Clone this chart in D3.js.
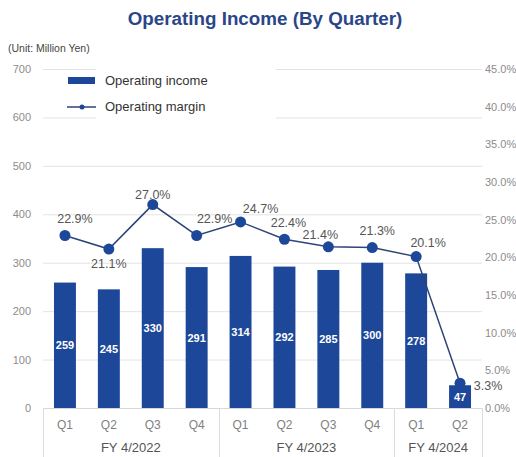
<!DOCTYPE html>
<html>
<head>
<meta charset="utf-8">
<script src="https://cdn.jsdelivr.net/npm/d3@7"></script>
<style>
  body { margin: 0; background: #fff; }
  svg { display: block; font-family: Arial, "Liberation Sans", sans-serif; }
</style>
</head>
<body>
<svg id="chart" width="516" height="457"></svg>
<script>
// Quarterly operating income (million yen) and operating margin (%)
const quarters = ["Q1", "Q2", "Q3", "Q4", "Q1", "Q2", "Q3", "Q4", "Q1", "Q2"];
const fiscalYears = ["FY 4/2022", "FY 4/2023", "FY 4/2024"];
const fiscalYearOfQuarter = [0, 0, 0, 0, 1, 1, 1, 1, 2, 2];
const operatingIncome = [259, 245, 330, 291, 314, 292, 285, 300, 278, 47];
const operatingMargin = [22.9, 21.1, 27.0, 22.9, 24.7, 22.4, 21.4, 21.3, 20.1, 3.3];
const incomeTicks = [0, 100, 200, 300, 400, 500, 600, 700];
const marginTicks = [0, 5, 10, 15, 20, 25, 30, 35, 40, 45];
// Where each margin label sits relative to its point: [dx, dy]
const marginLabelOffsets = [[10, -16], [0, 15], [0, -10], [18, -16], [20, -13], [4, -16], [-8, -12], [5, -17], [12, -14], [28, 3]];

const svg = d3.select("#chart");
const plotLeft = 43, plotRight = 482, plotTop = 69, plotBottom = 408;
const keys = d3.range(quarters.length);

const x = d3.scaleBand().domain(keys).range([plotLeft, plotRight]).paddingInner(0.5).paddingOuter(0.25);
const yL = d3.scaleLinear().domain([0, 700]).range([plotBottom, plotTop]);
const yR = d3.scaleLinear().domain([0, 45]).range([plotBottom, plotTop]);

const barColor = "#1d4799";
const lineColor = "#2e4477";
const gridColor = "#e3e3e3";
const tickColor = "#8c8c8c";

// Title
svg.append("text")
  .attr("x", 265).attr("y", 25)
  .attr("text-anchor", "middle")
  .attr("font-size", 18.8).attr("font-weight", "bold")
  .attr("fill", "#2a4688")
  .text("Operating Income (By Quarter)");

svg.append("text")
  .attr("x", 8).attr("y", 52)
  .attr("font-size", 10.5).attr("fill", "#444")
  .text("(Unit: Million Yen)");

// Horizontal grid
svg.append("g").selectAll("line").data(incomeTicks.filter(d => d > 0)).join("line")
  .attr("x1", plotLeft).attr("x2", plotRight)
  .attr("y1", d => yL(d) + 0.5).attr("y2", d => yL(d) + 0.5)
  .attr("stroke", gridColor).attr("stroke-width", 1);

// Left axis labels
const axisL = svg.append("g").attr("transform", `translate(${plotLeft - 12},0)`)
  .call(d3.axisLeft(yL).tickValues(incomeTicks).tickSize(0).tickPadding(0));
axisL.select(".domain").remove();
axisL.selectAll("text").attr("fill", tickColor).attr("font-size", 11).attr("font-family", "Arial, 'Liberation Sans', sans-serif");

// Right axis labels
const axisR = svg.append("g").attr("transform", `translate(${plotRight + 3},0)`)
  .call(d3.axisRight(yR).tickValues(marginTicks).tickSize(0).tickPadding(0).tickFormat(d => d.toFixed(1) + "%"));
axisR.select(".domain").remove();
axisR.selectAll("text").attr("fill", tickColor).attr("font-size", 11).attr("font-family", "Arial, 'Liberation Sans', sans-serif");

// Legend panel (white backing hides the grid behind it)
const legend = svg.append("g");
legend.append("rect").attr("x", 96).attr("y", 62).attr("width", 180).attr("height", 60).attr("fill", "#fff");
legend.append("rect").attr("x", 68).attr("y", 77).attr("width", 27).attr("height", 7).attr("fill", barColor);
legend.append("text").attr("x", 105).attr("y", 85).attr("font-size", 13).attr("fill", "#333").text("Operating income");
legend.append("line").attr("x1", 67).attr("x2", 96).attr("y1", 107).attr("y2", 107).attr("stroke", lineColor).attr("stroke-width", 1.5);
legend.append("circle").attr("cx", 82).attr("cy", 107).attr("r", 2.5).attr("fill", barColor);
legend.append("text").attr("x", 105).attr("y", 111).attr("font-size", 13).attr("fill", "#333").text("Operating margin");

// Baseline
svg.append("line").attr("x1", plotLeft).attr("x2", plotRight).attr("y1", plotBottom + 0.5).attr("y2", plotBottom + 0.5)
  .attr("stroke", "#d8d8d8");

// Bars
svg.append("g").selectAll("rect").data(keys).join("rect")
  .attr("x", i => x(i)).attr("width", x.bandwidth())
  .attr("y", i => yL(operatingIncome[i]))
  .attr("height", i => yL(0) - yL(operatingIncome[i]))
  .attr("fill", barColor);

// Bar value labels, centred in each bar
svg.append("g").selectAll("text").data(keys).join("text")
  .attr("x", i => x(i) + x.bandwidth() / 2)
  .attr("y", i => (yL(operatingIncome[i]) + yL(0)) / 2 + 4)
  .attr("text-anchor", "middle")
  .attr("font-size", 11).attr("font-weight", "bold").attr("fill", "#fff")
  .text(i => operatingIncome[i]);

// Margin line
const cx = i => x(i) + x.bandwidth() / 2;
svg.append("path").datum(keys)
  .attr("d", d3.line().x(cx).y(i => yR(operatingMargin[i])))
  .attr("fill", "none").attr("stroke", lineColor).attr("stroke-width", 1.5);

svg.append("g").selectAll("circle").data(keys).join("circle")
  .attr("cx", cx).attr("cy", i => yR(operatingMargin[i]))
  .attr("r", 5.5).attr("fill", barColor);

svg.append("g").selectAll("text").data(keys).join("text")
  .attr("x", i => cx(i) + marginLabelOffsets[i][0])
  .attr("y", i => yR(operatingMargin[i]) + marginLabelOffsets[i][1] + 4)
  .attr("text-anchor", "middle")
  .attr("font-size", 12.5).attr("fill", "#555")
  .text(i => operatingMargin[i].toFixed(1) + "%");

// Category axis: quarters and fiscal-year groups
svg.append("g").selectAll("text").data(keys).join("text")
  .attr("x", cx).attr("y", 429)
  .attr("text-anchor", "middle")
  .attr("font-size", 12).attr("fill", "#808080")
  .text(i => quarters[i]);

const groups = fiscalYears.map((fy, g) => {
  const idx = keys.filter(i => fiscalYearOfQuarter[i] === g);
  const step = x.step();
  const x0 = x(idx[0]) - step * x.paddingInner() / 2;
  const x1 = x(idx[idx.length - 1]) + x.bandwidth() + step * x.paddingInner() / 2;
  return { fy, x0: g === 0 ? plotLeft : x0, x1: g === fiscalYears.length - 1 ? plotRight : x1 };
});

const sepXs = [groups[0].x0, ...groups.map(g => g.x1)];
svg.append("g").selectAll("line").data(sepXs).join("line")
  .attr("x1", d => Math.round(d) + 0.5).attr("x2", d => Math.round(d) + 0.5)
  .attr("y1", plotBottom).attr("y2", 457)
  .attr("stroke", "#dcdcdc");

svg.append("g").selectAll("text").data(groups).join("text")
  .attr("x", d => (d.x0 + d.x1) / 2).attr("y", 452)
  .attr("text-anchor", "middle")
  .attr("font-size", 13).attr("fill", "#555")
  .text(d => d.fy);
</script>
</body>
</html>
